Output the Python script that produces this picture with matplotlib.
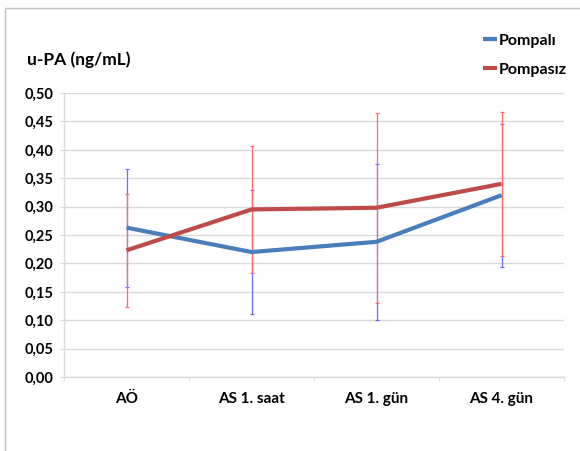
import matplotlib
matplotlib.use("Agg")
import matplotlib.pyplot as plt
from matplotlib.patches import Rectangle

categories = ["AÖ", "AS 1. saat", "AS 1. gün", "AS 4. gün"]
pompali = [0.263, 0.220, 0.238, 0.320]
pompali_sd = [0.104, 0.109, 0.137, 0.126]
pompasiz = [0.223, 0.295, 0.298, 0.340]
pompasiz_sd = [0.100, 0.112, 0.167, 0.127]
yticks = [0.0, 0.05, 0.10, 0.15, 0.20, 0.25, 0.30, 0.35, 0.40, 0.45, 0.50]

plt.rcParams["font.family"] = ["Lato", "DejaVu Sans"]

W, H = 580, 451
fig = plt.figure(figsize=(W / 100, H / 100), dpi=100)
fig.patch.set_facecolor("white")

# outer frame of the chart object
fig.patches.append(Rectangle((5 / W, -0.1), 1.2, 1.1 - 8 / H, transform=fig.transFigure,
                             fill=False, edgecolor="#bfbfbf", linewidth=1.0))

ax = fig.add_axes([64 / W, 1 - 377 / H, (564 - 64) / W, (377 - 93) / H])
x = list(range(len(categories)))

grid_c = "#d9d9d9"
ax.set_xlim(-0.5, len(categories) - 0.5)
ax.set_ylim(0, 0.5)
ax.set_yticks(yticks)
ax.set_yticklabels([f"{v:.2f}".replace(".", ",") for v in yticks])
ax.yaxis.grid(True, color=grid_c, linewidth=1.0)
ax.set_axisbelow(True)
for s in ["top", "right"]:
    ax.spines[s].set_visible(False)
for s in ["left", "bottom"]:
    ax.spines[s].set_color(grid_c)
    ax.spines[s].set_linewidth(1.0)

ax.set_xticks(x)
ax.set_xticklabels(categories)
ax.set_xticks([i - 0.5 for i in range(len(categories) + 1)], minor=True)
ax.tick_params(axis="x", which="major", length=0, pad=11, labelsize=11)
ax.tick_params(axis="x", which="minor", length=3, color=grid_c, direction="out")
ax.tick_params(axis="y", length=3, color=grid_c, pad=4.5, labelsize=10.5)
for lab in ax.get_xticklabels() + ax.get_yticklabels():
    lab.set_fontweight("bold")

ax.errorbar(x, pompali, yerr=pompali_sd, fmt="none", ecolor="#6b6bff",
            elinewidth=0.9, capsize=1.6, capthick=0.9, zorder=3)
ax.errorbar(x, pompasiz, yerr=pompasiz_sd, fmt="none", ecolor="#ff6b6b",
            elinewidth=0.9, capsize=1.6, capthick=0.9, zorder=4)

l1, = ax.plot(x, pompali, color="#4a7ebb", linewidth=3.0, zorder=5,
              solid_capstyle="butt", label="Pompalı")
l2, = ax.plot(x, pompasiz, color="#be4b48", linewidth=3.0, zorder=6,
              solid_capstyle="butt", label="Pompasız")

fig.text(27 / W, 1 - 60 / H, "u-PA (ng/mL)", fontsize=12.5, fontweight="bold",
         ha="left", va="center")

leg = fig.legend(handles=[l1, l2], loc="upper left",
                 bbox_to_anchor=(469 / W, 1 - 19 / H), frameon=False,
                 handlelength=0.88, handletextpad=0.08, labelspacing=0.95,
                 prop={"weight": "bold", "size": 11.5})

fig.savefig("out.png", dpi=100, facecolor="white")
